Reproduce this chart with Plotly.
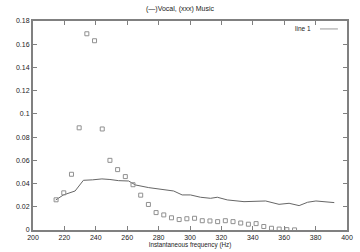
import plotly.graph_objects as go

music_x = [214.7, 219.6, 224.5, 229.4, 234.3, 239.2, 244.1, 249.0, 253.9, 258.8,
           263.7, 268.6, 273.5, 278.4, 283.3, 288.2, 293.1, 298.0, 302.9, 307.8,
           312.7, 317.6, 322.5, 327.4, 332.3, 337.2, 342.1, 347.0, 351.9, 356.8,
           361.7, 366.6]
music_y = [0.026, 0.032, 0.048, 0.088, 0.169, 0.163, 0.087, 0.060, 0.052, 0.046,
           0.039, 0.030, 0.022, 0.015, 0.013, 0.0105, 0.009, 0.0097, 0.0101, 0.008,
           0.0078, 0.0072, 0.008, 0.0072, 0.006, 0.005, 0.0055, 0.003, 0.0015, 0.0008,
           0.0003, 0.0001]

vocal_x = [214.5, 219.4, 226.8, 232.1, 238.0, 243.9, 249.0, 254.5, 260.9, 265.2,
           273.7, 282.2, 289.6, 295.0, 300.3, 306.7, 313.1, 317.4, 323.8, 334.4,
           340.8, 348.2, 356.7, 363.1, 369.5, 374.9, 380.2, 386.6, 391.9]
vocal_y = [0.0259, 0.0302, 0.0336, 0.0428, 0.0432, 0.0440, 0.0435, 0.0425, 0.0422, 0.0388,
           0.0365, 0.0351, 0.0336, 0.0302, 0.0302, 0.0282, 0.0273, 0.0282, 0.0259, 0.0244,
           0.0244, 0.0250, 0.0221, 0.0230, 0.0210, 0.0239, 0.0250, 0.0239, 0.0236]

x_ticks = [200, 220, 240, 260, 280, 300, 320, 340, 360, 380, 400]
y_ticks = [0, 0.02, 0.04, 0.06, 0.08, 0.1, 0.12, 0.14, 0.16, 0.18]
y_labels = ["0", "0.02", "0.04", "0.06", "0.08", "0.1", "0.12", "0.14", "0.16", "0.18"]

font = "Liberation Sans, Arial, sans-serif"
txt = "#222222"

fig = go.Figure()
fig.add_trace(go.Scatter(x=vocal_x, y=vocal_y, mode="lines",
                         line=dict(color="#666666", width=1), name="line 1",
                         showlegend=False))
fig.add_trace(go.Scatter(x=music_x, y=music_y, mode="markers",
                         marker=dict(symbol="square-open", size=4,
                                     color="#909090", line=dict(width=1, color="#909090")),
                         showlegend=False))

axis_common = dict(showline=True, mirror="ticks", linecolor="#808080", linewidth=2,
                   ticks="inside", ticklen=4, tickcolor="#808080", tickwidth=1,
                   showgrid=False, zeroline=False, automargin=False,
                   tickfont=dict(family=font, size=7, color=txt))

fig.update_layout(
    width=360, height=252,
    margin=dict(l=33, r=13, t=21, b=22),
    paper_bgcolor="white", plot_bgcolor="white",
    title=dict(text="(\u2014)Vocal, (xxx) Music", x=0.5, xanchor="center",
               y=1 - 9 / 252, yanchor="middle",
               font=dict(family=font, size=7, color=txt)),
    xaxis=dict(range=[200, 400], tickvals=x_ticks,
               title=dict(text="Instantaneous frequency (Hz)", standoff=1,
                          font=dict(family=font, size=6.3, color=txt)),
               **axis_common),
    yaxis=dict(range=[0, 0.18], tickvals=y_ticks, ticktext=y_labels, **axis_common),
    annotations=[dict(text="line 1", xref="paper", yref="paper", x=0.892, y=0.962,
                      xanchor="right", yanchor="middle", showarrow=False,
                      font=dict(family=font, size=6.5, color=txt))],
    shapes=[dict(type="line", xref="paper", yref="paper", x0=0.914, x1=0.971,
                 y0=0.962, y1=0.962, line=dict(color="#999999", width=1))],
)

fig.write_html("out.html",
               config={"displayModeBar": False, "staticPlot": True},
               post_script="document.body.style.margin='0';document.body.style.padding='0';")
